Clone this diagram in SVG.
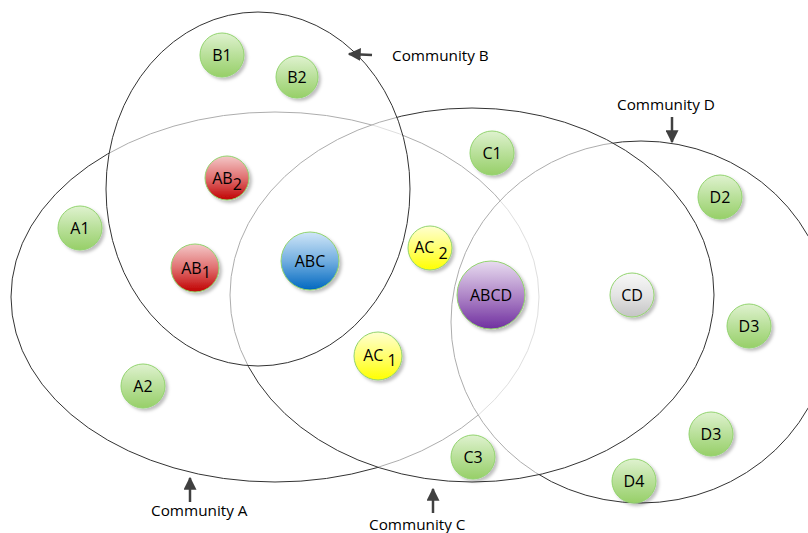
<svg xmlns="http://www.w3.org/2000/svg" width="808" height="533" viewBox="0 0 808 533">
<defs>
<linearGradient id="gG" x1="0" y1="0" x2="0" y2="1"><stop offset="0" stop-color="#dff2cf"/><stop offset="0.5" stop-color="#b9e09a"/><stop offset="1" stop-color="#97cf68"/></linearGradient>
<linearGradient id="gR" x1="0" y1="0" x2="0" y2="1"><stop offset="0" stop-color="#f4c8c8"/><stop offset="0.5" stop-color="#e07070"/><stop offset="1" stop-color="#c00000"/></linearGradient>
<linearGradient id="gB" x1="0" y1="0" x2="0" y2="1"><stop offset="0" stop-color="#d0e6f8"/><stop offset="0.5" stop-color="#72aee0"/><stop offset="1" stop-color="#0068c0"/></linearGradient>
<linearGradient id="gY" x1="0" y1="0" x2="0" y2="1"><stop offset="0" stop-color="#ffffd0"/><stop offset="0.5" stop-color="#ffff70"/><stop offset="1" stop-color="#ffff00"/></linearGradient>
<linearGradient id="gP" x1="0" y1="0" x2="0" y2="1"><stop offset="0" stop-color="#e8dcf0"/><stop offset="0.5" stop-color="#b088c8"/><stop offset="1" stop-color="#7030a0"/></linearGradient>
<linearGradient id="gS" x1="0" y1="0" x2="0" y2="1"><stop offset="0" stop-color="#f8f8f8"/><stop offset="0.5" stop-color="#e4e4e4"/><stop offset="1" stop-color="#c4c4c4"/></linearGradient>
<filter id="sh" x="-30%" y="-30%" width="160%" height="160%"><feDropShadow dx="2.5" dy="2.5" stdDeviation="1.5" flood-color="#000" flood-opacity="0.25"/></filter>
<marker id="ah" viewBox="0 0 10 10" refX="9" refY="5" markerWidth="5.2" markerHeight="5.2" orient="auto"><path d="M0,0 L10,5 L0,10 Z" fill="#404040"/></marker>
<style>
.comm{fill:#fff;fill-opacity:0.6;stroke:#333;stroke-width:1}
.node circle{stroke:#92d36e;stroke-width:1;filter:url(#sh)}
text{font-family:"Open Sans","Liberation Sans",sans-serif;fill:#000}
.nl{font-size:16px;text-anchor:middle}
.cl{font-size:15.3px}
.arr{stroke:#404040;stroke-width:2.5;fill:none;marker-end:url(#ah)}
</style>
</defs>
<rect width="808" height="533" fill="#fff"/>
<g id="communities">
<ellipse id="commA" class="comm" cx="275" cy="297" rx="264" ry="185"/>
<ellipse id="commD" class="comm" cx="641" cy="322" rx="190" ry="181"/>
<ellipse id="commC" class="comm" cx="472" cy="295" rx="242" ry="187"/>
<ellipse id="commB" class="comm" cx="258" cy="189" rx="152" ry="177"/>
</g>
<g id="connectors">
<line class="arr" x1="372" y1="55" x2="349" y2="54"/>
<line class="arr" x1="672" y1="117" x2="672" y2="142"/>
<line class="arr" x1="190" y1="502" x2="190" y2="478"/>
<line class="arr" x1="433" y1="513" x2="433" y2="489"/>
</g>
<g id="labels">
<text class="cl" x="392" y="61">Community B</text>
<text class="cl" x="617" y="110">Community D</text>
<text class="cl" x="151" y="516">Community A</text>
<text class="cl" x="369" y="530">Community C</text>
</g>
<g id="B1" class="node"><circle cx="222" cy="55" r="22" fill="url(#gG)"/><text class="nl" x="222" y="60.5">B1</text></g>
<g id="B2" class="node"><circle cx="297" cy="77" r="21" fill="url(#gG)"/><text class="nl" x="297" y="82.5">B2</text></g>
<g id="C1" class="node"><circle cx="492" cy="153" r="22" fill="url(#gG)"/><text class="nl" x="492" y="158.5">C1</text></g>
<g id="D2" class="node"><circle cx="720" cy="197" r="22" fill="url(#gG)"/><text class="nl" x="720" y="202.5">D2</text></g>
<g id="A1" class="node"><circle cx="80" cy="228" r="22" fill="url(#gG)"/><text class="nl" x="80" y="233.5">A1</text></g>
<g id="AB2" class="node"><circle cx="227" cy="178" r="22" fill="url(#gR)"/><text class="nl" x="227" y="183.5">AB<tspan dy="6">2</tspan></text></g>
<g id="AB1" class="node"><circle cx="195" cy="268" r="24" fill="url(#gR)"/><text class="nl" x="196" y="273.5">AB<tspan dy="4">1</tspan></text></g>
<g id="ABC" class="node"><circle cx="310" cy="261" r="29" fill="url(#gB)"/><text class="nl" x="310" y="266.5">ABC</text></g>
<g id="AC2" class="node"><circle cx="430" cy="248" r="22" fill="url(#gY)"/><text class="nl" x="431" y="253">AC <tspan dy="6">2</tspan></text></g>
<g id="ABCD" class="node"><circle cx="491" cy="295" r="34" fill="url(#gP)"/><text class="nl" x="491" y="300.5">ABCD</text></g>
<g id="AC1" class="node"><circle cx="378" cy="356" r="24" fill="url(#gY)"/><text class="nl" x="380" y="361">AC <tspan dy="5">1</tspan></text></g>
<g id="CD" class="node"><circle cx="632" cy="295" r="22" fill="url(#gS)"/><text class="nl" x="632" y="300.5">CD</text></g>
<g id="D3a" class="node"><circle cx="749" cy="326" r="22" fill="url(#gG)"/><text class="nl" x="749" y="331.5">D3</text></g>
<g id="A2" class="node"><circle cx="143" cy="386" r="22" fill="url(#gG)"/><text class="nl" x="143" y="391.5">A2</text></g>
<g id="D3b" class="node"><circle cx="711" cy="434" r="22" fill="url(#gG)"/><text class="nl" x="711" y="439.5">D3</text></g>
<g id="C3" class="node"><circle cx="473" cy="457" r="22" fill="url(#gG)"/><text class="nl" x="473" y="462.5">C3</text></g>
<g id="D4" class="node"><circle cx="634" cy="481" r="22" fill="url(#gG)"/><text class="nl" x="634" y="486.5">D4</text></g>
</svg>
